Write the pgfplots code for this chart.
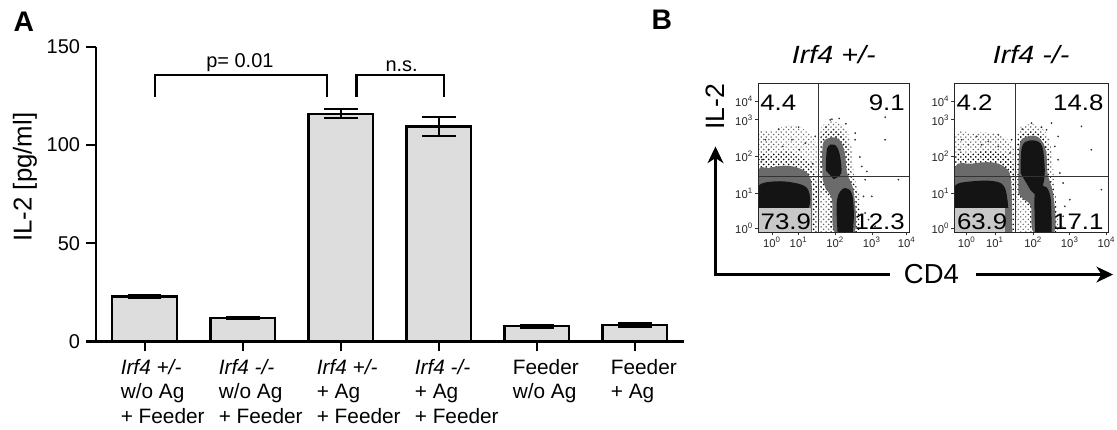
\documentclass[border=0pt]{standalone}
\usepackage{fontspec}
\setmainfont{Liberation Sans}
\newfontfamily\widefont{Liberation Sans}[FakeStretch=1.15]
\usepackage{pgfplots}
\pgfplotsset{compat=1.18}
\usetikzlibrary{arrows.meta,patterns}

\definecolor{barfill}{RGB}{221,221,221}
\definecolor{labgray}{RGB}{200,200,200}

\tikzset{qnum/.style={font=\widefont\fontsize{13.5}{15}\selectfont, inner sep=0pt}}

\pgfplotsset{
  onebar/.style={ybar, bar width=39pt, bar shift=0pt, fill=barfill, draw=black, line width=1.3pt,
    error bars/.cd, y dir=both, y explicit,
    error bar style={line width=1.3pt, black},
    error mark options={rotate=90, line width=1.3pt, mark size=10pt, black}},
  facsbase/.style={scale only axis, height=89.2pt, ymin=0, ymax=446,
    y filter/.expression={578-y}, clip=true, axis on top,
    axis line style={line width=0.6pt, black!85},
    tick align=outside, xtick pos=left, ytick pos=left,
    major tick length=1.8pt, minor tick length=1pt,
    tick style={line width=0.4pt, black!80}, minor tick num=4,
    ytick={13,116,228,338,393},
    yticklabels={10\textsuperscript{0},10\textsuperscript{1},10\textsuperscript{2},10\textsuperscript{3},10\textsuperscript{4}},
    xticklabels={10\textsuperscript{0},10\textsuperscript{1},10\textsuperscript{2},10\textsuperscript{3},10\textsuperscript{4}},
    tick label style={font=\fontsize{6.8}{7}\selectfont, inner sep=1pt, black!85},
    title style={font=\widefont\itshape\fontsize{15}{17}\selectfont, at={(0.5,1)}, anchor=center, yshift=11.4pt}},
  outer/.style={pattern=crosshatch dots, pattern color=black!60, draw=none, smooth, tension=0.6},
  mid/.style={fill=black!58, draw=none, smooth, tension=0.6},
  midpat/.style={pattern=crosshatch dots, pattern color=black, draw=none, smooth, tension=0.6},
  core/.style={fill=black!92, draw=none, smooth, tension=0.6},
  sparse/.style={only marks, mark=*, mark size=0.3pt, black!80}
}

\begin{document}
\begin{tikzpicture}

% ---------------- panel A ----------------
\begin{axis}[
  at={(57.6pt,51.6pt)}, anchor=south west,
  scale only axis, width=353.5pt, height=177pt,
  xmin=-0.5, xmax=5.5, ymin=0, ymax=150,
  axis x line*=bottom, axis y line*=left,
  axis line style={line width=1.4pt},
  xtick={0,1,2,3,4,5}, ytick={0,50,100,150},
  tick align=outside, major tick length=6pt,
  tick style={line width=1.4pt, black},
  /pgf/number format/assume math mode=true,
  xticklabels={{\textit{Irf4 +/-}\\w/o Ag\\+ Feeder},{\textit{Irf4 -/-}\\w/o Ag\\+ Feeder},
    {\textit{Irf4 +/-}\\+ Ag\\+ Feeder},{\textit{Irf4 -/-}\\+ Ag\\+ Feeder},{Feeder\\w/o Ag},{Feeder\\+ Ag}},
  xticklabel style={anchor=north west, align=left, xshift=-18pt, yshift=-1pt,
    font=\fontsize{12.5}{14.8}\selectfont},
  yticklabel style={font=\fontsize{12}{14}\selectfont},
  ylabel={IL-2 [pg/ml]},
  ylabel style={font=\fontsize{15.5}{17}\selectfont, at={(axis description cs:-0.1205,0.558)}, anchor=center},
  clip=false,
]
\addplot[onebar] coordinates {(0,22.9) +- (0,0.5)};
\addplot[onebar] coordinates {(1,12.0) +- (0,0.6)};
\addplot[onebar] coordinates {(2,116.0) +- (0,2.3)};
\addplot[onebar] coordinates {(3,109.5) +- (0,4.8)};
\addplot[onebar] coordinates {(4,7.7) +- (0,0.6)};
\addplot[onebar] coordinates {(5,8.5) +- (0,0.9)};

% significance brackets
\addplot[black, line width=1.3pt] coordinates {(0.1,124.5) (0.1,135.5) (1.86,135.5) (1.86,124.5)};
\addplot[black, line width=1.3pt] coordinates {(2.16,124.5) (2.16,135.5) (3.05,135.5) (3.05,124.5)};
\node[font=\fontsize{12}{13}\selectfont, anchor=south, inner sep=1.5pt] at (axis cs:0.97,136) {p= 0.01};
\node[font=\fontsize{12}{13}\selectfont, anchor=south, inner sep=1.5pt] at (axis cs:2.62,136) {n.s.};
\end{axis}

% ---------------- panel B, Irf4 +/- ----------------
\begin{axis}[facsbase, at={(455.6pt,117.2pt)}, anchor=south west, width=91pt,
  xmin=178, xmax=633, xtick={220,300,410,520,625}, title={Irf4 +/-}]
\addplot[outer] coordinates {(178,578) (178,300) (220,275) (280,255) (330,280) (362,330) (370,420) (365,500) (360,578)};
\addplot[outer] coordinates {(365,578) (362,420) (360,290) (375,255) (405,245) (440,262) (458,320) (466,400) (482,470) (486,578)};
\addplot[midpat] coordinates {(178,578) (178,365) (215,345) (265,335) (310,350) (345,390) (355,450) (352,578)};
\addplot[midpat] coordinates {(366,440) (365,300) (388,272) (425,275) (448,325) (458,400) (476,460) (478,578) (400,578) (392,480)};
\addplot[mid] coordinates {(178,578) (178,400) (210,385) (260,378) (300,385) (330,405) (340,450) (340,578)};
\addplot[mid] coordinates {(372,420) (372,318) (390,295) (420,298) (438,335) (446,400) (466,460) (468,578) (408,578) (400,480) (382,450)};
\addplot[core] coordinates {(178,505) (178,440) (230,425) (290,430) (325,445) (335,480) (330,505)};
\addplot[core] coordinates {(382,392) (386,325) (408,315) (423,342) (428,400) (405,418)};
\addplot[core] coordinates {(417,578) (414,500) (421,462) (440,445) (460,462) (466,520) (463,578)};
\addplot[sparse] coordinates {(200,300) (240,268) (300,262) (350,290) (400,238) (422,236) (470,300) (484,352) (500,420) (520,470) (560,232) (302,330) (252,320) (190,360) (342,372) (500,520) (530,560) (490,380) (442,252) (382,262) (560,300) (600,420) (210,330) (280,300) (320,310) (495,470) (510,540) (505,395) (470,280) (395,240)};
\addplot[fill=labgray, draw=none] coordinates {(178,505) (338,505) (338,578) (178,578)};
\addplot[black!80, line width=0.6pt] coordinates {(360,132) (360,578)};
\addplot[black!80, line width=0.6pt] coordinates {(178,410) (633,410)};
\node[qnum, anchor=north west] at ([xshift=1.2pt,yshift=-6.5pt]rel axis cs:0,1) {4.4};
\node[qnum, anchor=north east] at ([xshift=-2.6pt,yshift=-6.5pt]rel axis cs:1,1) {9.1};
\node[qnum, anchor=south west] at ([xshift=1.4pt,yshift=1.6pt]rel axis cs:0,0) {73.9};
\node[qnum, anchor=south east] at ([xshift=-2.6pt,yshift=1.6pt]rel axis cs:1,0) {12.3};
\end{axis}

% ---------------- panel B, Irf4 -/- ----------------
\begin{axis}[facsbase, at={(573.6pt,117.2pt)}, anchor=south west, width=92.4pt,
  xmin=168, xmax=630, xtick={205,290,405,515,625}, title={Irf4 -/-}]
\addplot[outer] coordinates {(168,578) (168,300) (220,280) (280,280) (330,300) (352,350) (357,450) (354,578)};
\addplot[outer] coordinates {(355,578) (352,420) (358,282) (385,255) (422,260) (452,295) (464,380) (472,470) (480,578)};
\addplot[midpat] coordinates {(168,578) (168,360) (220,340) (280,335) (325,350) (348,395) (352,578)};
\addplot[midpat] coordinates {(356,470) (358,310) (378,280) (422,280) (450,325) (456,400) (472,470) (474,578) (400,578) (392,500)};
\addplot[mid] coordinates {(168,578) (168,390) (220,372) (280,368) (318,382) (338,420) (342,578)};
\addplot[mid] coordinates {(360,460) (364,320) (382,292) (420,292) (443,332) (448,400) (466,470) (468,578) (406,578) (398,500) (376,480)};
\addplot[core] coordinates {(168,505) (168,440) (220,425) (290,425) (320,445) (330,505)};
\addplot[core] coordinates {(367,400) (371,322) (395,302) (428,312) (438,360) (438,420) (420,466) (396,450)};
\addplot[core] coordinates {(411,578) (409,470) (421,442) (444,442) (458,480) (460,578)};
\addplot[sparse] coordinates {(190,300) (235,290) (300,285) (340,300) (400,250) (430,262) (470,320) (480,360) (495,430) (515,480) (550,260) (300,320) (250,315) (185,330) (335,340) (495,530) (520,565) (485,400) (445,270) (372,268) (580,330) (610,450) (210,315) (270,305) (480,290) (500,500) (490,560) (460,250)};
\addplot[fill=labgray, draw=none] coordinates {(168,505) (320,505) (320,578) (168,578)};
\addplot[black!80, line width=0.6pt] coordinates {(353,132) (353,578)};
\addplot[black!80, line width=0.6pt] coordinates {(168,410) (630,410)};
\node[qnum, anchor=north west] at ([xshift=1.2pt,yshift=-6.5pt]rel axis cs:0,1) {4.2};
\node[qnum, anchor=north east] at ([xshift=-2.6pt,yshift=-6.5pt]rel axis cs:1,1) {14.8};
\node[qnum, anchor=south west] at ([xshift=1.4pt,yshift=1.6pt]rel axis cs:0,0) {63.9};
\node[qnum, anchor=south east] at ([xshift=-2.6pt,yshift=1.6pt]rel axis cs:1,0) {17.1};
\end{axis}

% ---------------- labels and arrows (1 px = 0.6 pt) ----------------
\begin{scope}[x=0.6pt, y=0.6pt]
\path (0,0) rectangle (1117,428);
\node[font=\bfseries\fontsize{17}{18}\selectfont] at (24,406) {A};
\node[font=\bfseries\fontsize{17}{18}\selectfont] at (663,408) {B};
\draw[line width=1.4pt, {Stealth[length=10pt,width=9.5pt,inset=3pt]}-] (716.7,281.3) -- (716.7,153) -- (891.7,153);
\draw[line width=1.4pt, -{Stealth[length=10pt,width=9.5pt,inset=3pt]}] (978,153) -- (1115,153);
\node[font=\fontsize{16.5}{18}\selectfont] at (933,153) {CD4};
\node[font=\fontsize{16}{18}\selectfont, rotate=90] at (716.7,321.3) {IL-2};
\end{scope}
\end{tikzpicture}
\end{document}
